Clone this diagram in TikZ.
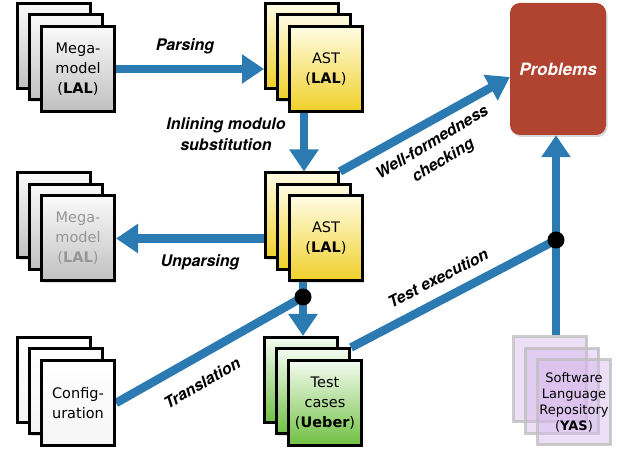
\documentclass[tikz,border=0pt]{standalone}
\usepackage{fontspec}
\setmainfont{TeX Gyre Heros}
\newfontfamily\cardfont{DejaVu Sans}
\usetikzlibrary{arrows.meta,shadows,backgrounds,calc}

\definecolor{flowblue}{RGB}{44,122,178}
\definecolor{brick}{RGB}{176,68,48}
\definecolor{astlow}{RGB}{240,208,40}
\definecolor{asttop}{RGB}{255,252,228}
\definecolor{testlow}{RGB}{112,192,66}
\definecolor{testtop}{RGB}{244,251,240}
\definecolor{megalow}{RGB}{192,192,192}
\definecolor{megatop}{RGB}{250,250,250}
\definecolor{yasfill}{RGB}{214,184,236}
\definecolor{fadedtext}{RGB}{150,150,150}

% one card of a stack; the front card carries the text
\newcommand\docstack[5]{%
  \node[#4] (#1-back) at (#2-24,#3-23) {};
  \node[#4] (#1-mid)  at (#2-12,#3-11.5) {};
  \node[#4] (#1)      at (#2,#3) {#5};
}

\tikzset{
  sheet/.style={draw=black, line width=3pt, minimum width=73pt, minimum height=85pt,
    inner sep=0pt, align=center, font=\cardfont\fontsize{14.5}{20}\selectfont,
    drop shadow={shadow xshift=1.5pt, shadow yshift=-2pt, opacity=0.25}},
  megasheet/.style={sheet, top color=megatop, bottom color=megalow},
  astsheet/.style={sheet, top color=asttop, bottom color=astlow},
  testsheet/.style={sheet, top color=testtop, bottom color=testlow},
  cfgsheet/.style={sheet, top color=white, bottom color=black!4},
  yassheet/.style={draw=black!25, draw opacity=0.8, line width=3pt, fill=yasfill,
    fill opacity=0.45, text opacity=1, minimum width=73pt, minimum height=85pt,
    inner sep=0pt, align=center, font=\cardfont\fontsize{13}{16}\selectfont},
  flow/.style={draw=flowblue, line width=8.5pt,
    -{Triangle[length=22pt,width=28pt]}},
  flowline/.style={draw=flowblue, line width=8.5pt},
  junction/.style={circle, fill=black, inner sep=0pt, minimum size=17pt},
  steplabel/.style={font=\fontsize{16}{21}\selectfont\bfseries\itshape, align=center},
}

\begin{document}
\begin{tikzpicture}[x=1pt,y=-1pt]
\useasboundingbox (0,0) rectangle (619,454);

% document stacks
\docstack{mm1}{78}{69}{megasheet}{Mega-\\model\\(\textbf{LAL})}
\docstack{ast1}{326}{69}{astsheet}{AST\\(\textbf{LAL})}
\docstack{mm2}{78}{238.5}{megasheet}{\color{fadedtext}Mega-\\\color{fadedtext}model\\\color{fadedtext}(\textbf{LAL})}
\docstack{ast2}{326}{238.5}{astsheet}{AST\\(\textbf{LAL})}
\docstack{cfg}{78}{403}{cfgsheet}{Config-\\uration}
\docstack{test}{325}{403}{testsheet}{Test\\cases\\(\textbf{Ueber})}
\docstack{yas}{574}{402.5}{yassheet}{Software\\Language\\Repository\\(\textbf{YAS})}

% result box
\node[draw=none, fill=brick, rounded corners=10pt, minimum width=96pt, minimum height=132pt,
  text=white, font=\fontsize{17}{20}\selectfont\bfseries\itshape,
  drop shadow={shadow xshift=1.5pt, shadow yshift=-2pt, opacity=0.3}]
  (problems) at (558,69) {Problems};

% junction points
\coordinate (inl) at (304,0);
\node[junction] (dotA) at (303,297) {};
\node[junction] (dotB) at (556,240) {};

% connectors, kept behind the cards
\begin{pgfonlayer}{background}
  \draw[flow] (mm1.east) -- (mm1.east -| ast1-back.west);
  \draw[flow] (ast1.south -| inl) -- (ast2-back.north -| inl);
  \draw[flow] (ast2.west -| ast2-back.west) -- (mm2.east);
  \draw[flow] (ast2-back.north east) -- ($(problems.west)+(0,8)$);
  \draw[flow] (ast2.south -| dotA) -- (test-back.north -| dotA);
  \draw[flowline] (cfg.east) -- (dotA.center);
  \draw[flowline] (test-mid.north east) -- (dotB.center);
  \draw[flow] (yas-back.north -| dotB) -- (problems.south -| dotB);
\end{pgfonlayer}

% step labels
\node[steplabel] (lparse) at (185,46) {Parsing};
\node[steplabel] (linline) at (226,134) {Inlining modulo\\substitution};
\node[steplabel] (lunparse) at (200,262) {Unparsing};
\node[steplabel, rotate=31] (lwf) at (438,152) {Well-formedness\\checking};
\node[steplabel, rotate=27] (ltest) at (438,278) {Test execution};
\node[steplabel, rotate=30] (ltrans) at (202,383) {Translation};
\end{tikzpicture}
\end{document}
